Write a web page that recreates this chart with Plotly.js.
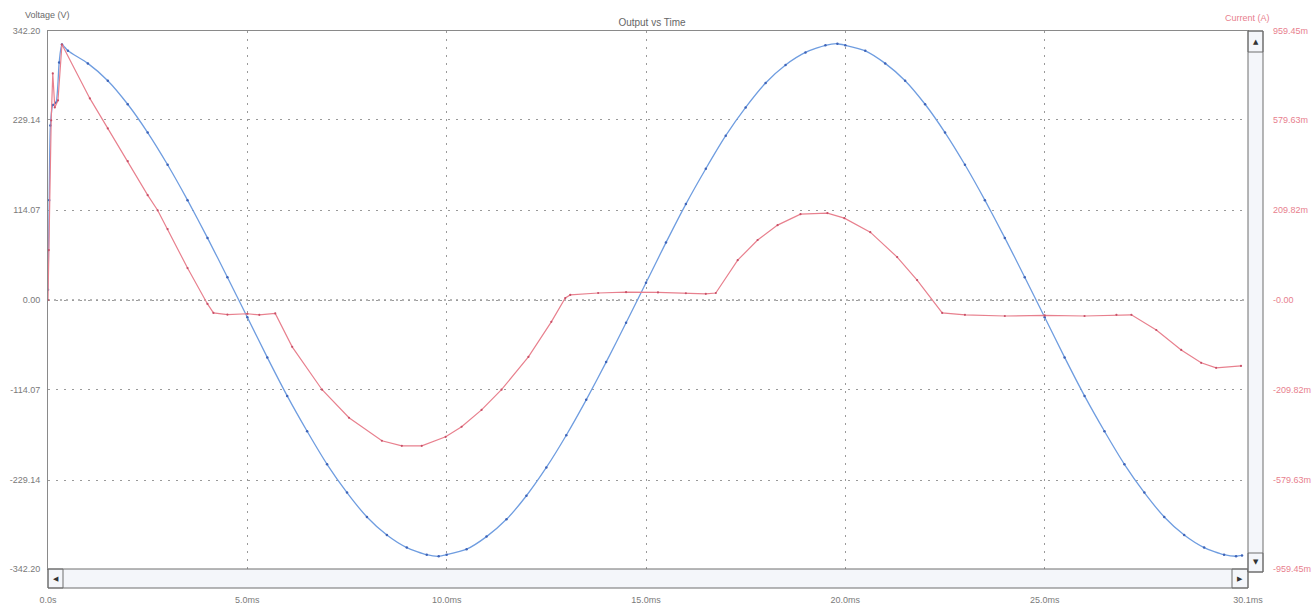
<!DOCTYPE html>
<html>
<head>
<meta charset="utf-8">
<script src="https://cdn.plot.ly/plotly-3.0.1.min.js"></script>
<style>html,body{margin:0;padding:0;background:#fff;}#chart{width:1312px;height:604px;}</style>
</head>
<body>
<div id="chart"></div>
<script>
// ---- data ----
const voltageTime = [0, 0.03, 0.06, 0.12, 0.2, 0.28, 0.35, 0.5, 1.0, 1.5, 2.0, 2.5, 3.0, 3.5, 4.0, 4.5, 5.0, 5.5, 6.0, 6.5, 7.0, 7.5, 8.0, 8.5, 9.0, 9.5, 9.8, 10.0, 10.5, 11.0, 11.5, 12.0, 12.5, 13.0, 13.5, 14.0, 14.5, 15.0, 15.5, 16.0, 16.5, 17.0, 17.5, 18.0, 18.5, 19.0, 19.5, 19.8, 20.0, 20.5, 21.0, 21.5, 22.0, 22.5, 23.0, 23.5, 24.0, 24.5, 25.0, 25.5, 26.0, 26.5, 27.0, 27.5, 28.0, 28.5, 29.0, 29.5, 29.8, 29.95];
const voltageV = [13, 127, 222, 248, 251, 302, 325, 317, 301, 279, 249, 213, 172, 127, 79, 29, -22, -73, -122, -167, -209, -245, -276, -299, -315, -324, -326, -324, -317, -301, -279, -249, -213, -172, -127, -79, -29, 22, 73, 122, 167, 209, 245, 276, 299, 315, 324, 326, 324, 317, 301, 279, 249, 213, 172, 127, 79, 29, -22, -73, -122, -167, -209, -245, -276, -299, -315, -324, -326, -325];

const currentTime = [0, 0.02, 0.08, 0.12, 0.17, 0.25, 0.35, 1.05, 1.5, 2.0, 2.5, 2.75, 3.0, 3.5, 4.0, 4.15, 4.5, 5.0, 5.3, 5.7, 6.125, 6.875, 7.55, 8.375, 8.875, 9.375, 9.975, 10.375, 10.875, 11.375, 12.05, 12.625, 12.975, 13.1, 13.8, 14.5, 15.3, 16.0, 16.5, 16.75, 17.3, 17.8, 18.3, 18.875, 19.55, 19.975, 20.625, 21.3, 21.8, 22.43, 23.0, 24.0, 25.0, 26.0, 26.8, 27.175, 27.8, 28.425, 28.925, 29.3, 29.925];
const currentA = [0, 0.178, 0.641, 0.808, 0.687, 0.712, 0.911, 0.719, 0.612, 0.495, 0.374, 0.320, 0.253, 0.114, -0.014, -0.046, -0.052, -0.049, -0.053, -0.048, -0.167, -0.320, -0.420, -0.502, -0.520, -0.520, -0.488, -0.452, -0.392, -0.320, -0.203, -0.078, 0.007, 0.018, 0.025, 0.028, 0.027, 0.024, 0.022, 0.025, 0.142, 0.214, 0.267, 0.306, 0.310, 0.292, 0.242, 0.153, 0.071, -0.046, -0.053, -0.057, -0.055, -0.057, -0.053, -0.053, -0.107, -0.178, -0.224, -0.242, -0.235];

const xTickVals = [0, 5, 10, 15, 20, 25, 30.1];
const xTickText = ['0.0s', '5.0ms', '10.0ms', '15.0ms', '20.0ms', '25.0ms', '30.1ms'];
const leftTickVals = [342.2, 229.14, 114.07, 0, -114.07, -229.14, -342.2];
const leftTickText = ['342.20', '229.14', '114.07', '0.00', '-114.07', '-229.14', '-342.20'];
const rightTickText = ['959.45m', '579.63m', '209.82m', '-0.00', '-209.82m', '-579.63m', '-959.45m'];

// ---- layout helpers (pixel -> paper) ----
const L = 48, R = 1248, T = 31, B = 569;
const px = x => (x - L) / (R - L);
const py = y => (B - y) / (B - T);
const vMax = 342.2, iMax = 0.95945;
const rightTickVals = leftTickVals.map(v => v / vMax * iMax);

const blue = '#6f9de0', red = '#e8808e';
const grey = '#8a8a8a';
const font = 'Liberation Sans, Arial, sans-serif';

const traces = [
  {x: voltageTime, y: voltageV, type: 'scatter', mode: 'lines+markers', yaxis: 'y',
   line: {color: blue, width: 1.3, shape: 'spline', smoothing: 0.6}, marker: {color: '#3f64b8', size: 2.5}, hoverinfo: 'skip'},
  {x: currentTime, y: currentA, type: 'scatter', mode: 'lines+markers', yaxis: 'y2',
   line: {color: red, width: 1.2}, marker: {color: '#c85068', size: 2.2}, hoverinfo: 'skip'}
];

function box(x0, y0, x1, y1, fill) {
  return {type: 'rect', xref: 'paper', yref: 'paper', x0: px(x0), x1: px(x1), y0: py(y1), y1: py(y0),
          line: {color: '#6e6e6e', width: 1}, fillcolor: fill || 'rgba(0,0,0,0)', layer: 'above'};
}
const shapes = [
  // zero line (darker dotted)
  {type: 'line', xref: 'paper', yref: 'y', x0: 0, x1: 1, y0: 0, y1: 0, line: {color: '#6a6a6a', width: 1, dash: '2px,4px'}, layer: 'below'},
  // horizontal scrollbar
  box(48, 569, 1248, 588, '#f4f6fa'),
  box(48, 569, 63, 588),
  box(1232, 569, 1248, 588),
  // vertical scrollbar
  box(1248, 31, 1263, 572, '#f4f6fa'),
  box(1248, 31, 1263, 52),
  box(1248, 553, 1263, 572)
];

function ann(text, x, y, opts) {
  return Object.assign({text: text, xref: 'paper', yref: 'paper', x: px(x), y: py(y), showarrow: false,
    font: {family: font, size: 9, color: '#6a6a6a'}, xanchor: 'center', yanchor: 'middle'}, opts || {});
}
const annotations = [
  ann('Voltage (V)', 23, 15, {xanchor: 'left'}),
  ann('Current (A)', 1223, 18, {xanchor: 'left', font: {family: font, size: 9, color: red}}),
  ann('◀', 55.5, 578.5, {font: {family: 'DejaVu Sans', size: 7, color: '#333'}}),
  ann('▶', 1240, 578.5, {font: {family: 'DejaVu Sans', size: 7, color: '#333'}}),
  ann('▲', 1255.5, 42, {font: {family: 'DejaVu Sans', size: 7, color: '#333'}}),
  ann('▼', 1255.5, 562, {font: {family: 'DejaVu Sans', size: 7, color: '#333'}})
];

const layout = {
  width: 1312, height: 604,
  margin: {l: L, r: 1312 - R, t: T, b: 604 - B},
  paper_bgcolor: '#fff', plot_bgcolor: '#fff',
  showlegend: false,
  title: {text: 'Output vs Time', x: 652 / 1312, xanchor: 'center', y: 1 - 22 / 604, yanchor: 'middle',
          font: {family: font, size: 10, color: '#666'}},
  font: {family: font, size: 9, color: '#7a7a7a'},
  xaxis: {range: [0, 30.1], tickvals: xTickVals, ticktext: xTickText, showgrid: true,
          gridcolor: '#9a9a9a', griddash: '2px,6px', gridwidth: 1, zeroline: false,
          showline: true, mirror: true, linecolor: grey, linewidth: 1, ticks: '',
          ticklabelstandoff: 22, tickfont: {family: font, size: 9, color: '#7a7a7a'}},
  yaxis: {range: [-vMax, vMax], tickvals: leftTickVals, ticktext: leftTickText, showgrid: true,
          gridcolor: '#9a9a9a', griddash: '2px,6px', gridwidth: 1, zeroline: false,
          showline: true, mirror: true, linecolor: grey, linewidth: 1, ticks: '',
          ticklabelstandoff: 5, tickfont: {family: font, size: 9, color: '#7a7a7a'}},
  yaxis2: {range: [-iMax, iMax], overlaying: 'y', side: 'right', tickvals: rightTickVals, ticktext: rightTickText,
           showgrid: false, zeroline: false, showline: false, ticks: '',
           ticklabelstandoff: 24, tickfont: {family: font, size: 9, color: red}},
  shapes: shapes,
  annotations: annotations
};

Plotly.newPlot('chart', traces, layout, {displayModeBar: false, staticPlot: true});
</script>
</body>
</html>
